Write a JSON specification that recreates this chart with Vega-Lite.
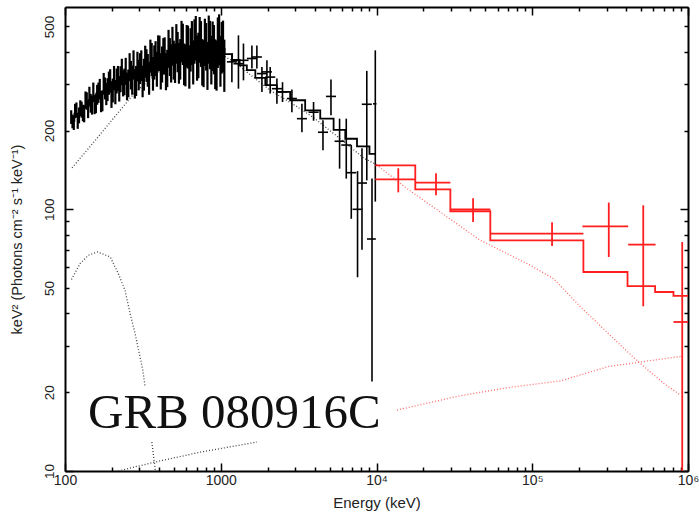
{
  "$schema": "https://vega.github.io/schema/vega-lite/v6.json",
  "width": 623,
  "height": 464,
  "autosize": {"type": "none"},
  "padding": {"left": 65, "top": 7, "right": 11, "bottom": 42},
  "background": "white",
  "config": {
    "view": {"stroke": null},
    "axis": {
      "domainColor": "black", "domainWidth": 2, "tickColor": "black", "tickWidth": 1.5,
      "grid": false, "labelFont": "Liberation Sans", "titleFont": "Liberation Sans",
      "labelColor": "#222", "titleColor": "#222", "titleFontWeight": "normal",
      "labelOverlap": false, "labelFlush": false, "labelBound": false
    }
  },
  "datasets": {
    "comp": [
      {"E": 111, "V": 144, "inst": "GBM", "seg": "band_gbm"},
      {"E": 150, "V": 178, "inst": "GBM", "seg": "band_gbm"},
      {"E": 200, "V": 219, "inst": "GBM", "seg": "band_gbm"},
      {"E": 282, "V": 280, "inst": "GBM", "seg": "band_gbm"},
      {"E": 400, "V": 335, "inst": "GBM", "seg": "band_gbm"},
      {"E": 550, "V": 372, "inst": "GBM", "seg": "band_gbm"},
      {"E": 800, "V": 400, "inst": "GBM", "seg": "band_gbm"},
      {"E": 1000, "V": 392, "inst": "GBM", "seg": "band_gbm"},
      {"E": 1250, "V": 362, "inst": "GBM", "seg": "band_gbm"},
      {"E": 1545, "V": 327, "inst": "GBM", "seg": "band_gbm"},
      {"E": 2075, "V": 285, "inst": "GBM", "seg": "band_gbm"},
      {"E": 3080, "V": 247, "inst": "GBM", "seg": "band_gbm"},
      {"E": 3940, "V": 224, "inst": "GBM", "seg": "band_gbm"},
      {"E": 5850, "V": 186, "inst": "GBM", "seg": "band_gbm"},
      {"E": 8270, "V": 157, "inst": "GBM", "seg": "band_gbm"},
      {"E": 10000, "V": 148, "inst": "GBM", "seg": "band_gbm"},
      {"E": 10000, "V": 148, "inst": "LAT", "seg": "band_lat"},
      {"E": 15700, "V": 120, "inst": "LAT", "seg": "band_lat"},
      {"E": 46400, "V": 76.1, "inst": "LAT", "seg": "band_lat"},
      {"E": 62500, "V": 69.7, "inst": "LAT", "seg": "band_lat"},
      {"E": 97300, "V": 61.1, "inst": "LAT", "seg": "band_lat"},
      {"E": 137000, "V": 54.3, "inst": "LAT", "seg": "band_lat"},
      {"E": 204000, "V": 42.4, "inst": "LAT", "seg": "band_lat"},
      {"E": 388000, "V": 29.4, "inst": "LAT", "seg": "band_lat"},
      {"E": 496000, "V": 25.7, "inst": "LAT", "seg": "band_lat"},
      {"E": 700000, "V": 21.6, "inst": "LAT", "seg": "band_lat"},
      {"E": 895000, "V": 19.5, "inst": "LAT", "seg": "band_lat"},
      {"E": 110, "V": 53.9, "inst": "GBM", "seg": "bb"},
      {"E": 124.9, "V": 62.0, "inst": "GBM", "seg": "bb"},
      {"E": 141.1, "V": 66.7, "inst": "GBM", "seg": "bb"},
      {"E": 162, "V": 68.7, "inst": "GBM", "seg": "bb"},
      {"E": 195, "V": 65.8, "inst": "GBM", "seg": "bb"},
      {"E": 220, "V": 56.8, "inst": "GBM", "seg": "bb"},
      {"E": 243, "V": 49.0, "inst": "GBM", "seg": "bb"},
      {"E": 262, "V": 39.9, "inst": "GBM", "seg": "bb"},
      {"E": 282, "V": 33.5, "inst": "GBM", "seg": "bb"},
      {"E": 300, "V": 28.1, "inst": "GBM", "seg": "bb"},
      {"E": 316, "V": 24.3, "inst": "GBM", "seg": "bb"},
      {"E": 327, "V": 20.9, "inst": "GBM", "seg": "bb"},
      {"E": 361, "V": 12.9, "inst": "GBM", "seg": "bb_tail"},
      {"E": 379, "V": 10.2, "inst": "GBM", "seg": "bb_tail"},
      {"E": 386, "V": 9.5, "inst": "GBM", "seg": "bb_tail"},
      {"E": 220, "V": 10.0, "inst": "GBM", "seg": "pl_gbm"},
      {"E": 373, "V": 10.8, "inst": "GBM", "seg": "pl_gbm"},
      {"E": 738, "V": 11.8, "inst": "GBM", "seg": "pl_gbm"},
      {"E": 1706, "V": 12.9, "inst": "GBM", "seg": "pl_gbm"},
      {"E": 13550, "V": 17.1, "inst": "LAT", "seg": "pl_lat"},
      {"E": 34600, "V": 19.4, "inst": "LAT", "seg": "pl_lat"},
      {"E": 72400, "V": 20.9, "inst": "LAT", "seg": "pl_lat"},
      {"E": 152000, "V": 22.1, "inst": "LAT", "seg": "pl_lat"},
      {"E": 310000, "V": 25.1, "inst": "LAT", "seg": "pl_lat"},
      {"E": 895000, "V": 27.4, "inst": "LAT", "seg": "pl_lat"}
    ],
    "nai": [
      {"E": 109.6, "V": 225, "lo": 212, "hi": 239},
      {"E": 113.9, "V": 215, "lo": 201, "hi": 228},
      {"E": 118.4, "V": 240, "lo": 224, "hi": 256},
      {"E": 123.0, "V": 229, "lo": 213, "hi": 245},
      {"E": 127.8, "V": 241, "lo": 224, "hi": 258},
      {"E": 132.8, "V": 232, "lo": 215, "hi": 249},
      {"E": 138.0, "V": 260, "lo": 240, "hi": 280},
      {"E": 143.4, "V": 272, "lo": 250, "hi": 294},
      {"E": 149.1, "V": 251, "lo": 230, "hi": 272},
      {"E": 154.9, "V": 252, "lo": 231, "hi": 273},
      {"E": 160.9, "V": 275, "lo": 251, "hi": 299},
      {"E": 167.2, "V": 289, "lo": 263, "hi": 315},
      {"E": 173.8, "V": 261, "lo": 237, "hi": 285},
      {"E": 180.6, "V": 291, "lo": 263, "hi": 319},
      {"E": 187.6, "V": 288, "lo": 259, "hi": 317},
      {"E": 195.0, "V": 311, "lo": 279, "hi": 343},
      {"E": 202.6, "V": 286, "lo": 256, "hi": 316},
      {"E": 210.5, "V": 282, "lo": 252, "hi": 312},
      {"E": 218.8, "V": 318, "lo": 283, "hi": 353},
      {"E": 227.3, "V": 316, "lo": 280, "hi": 352},
      {"E": 236.2, "V": 305, "lo": 270, "hi": 340},
      {"E": 245.4, "V": 339, "lo": 299, "hi": 379},
      {"E": 255.0, "V": 305, "lo": 268, "hi": 342},
      {"E": 265.0, "V": 328, "lo": 287, "hi": 369},
      {"E": 275.4, "V": 359, "lo": 313, "hi": 405},
      {"E": 286.2, "V": 312, "lo": 271, "hi": 353},
      {"E": 297.4, "V": 329, "lo": 285, "hi": 373},
      {"E": 309.0, "V": 357, "lo": 309, "hi": 405},
      {"E": 321.1, "V": 330, "lo": 284, "hi": 376},
      {"E": 333.6, "V": 358, "lo": 307, "hi": 409},
      {"E": 346.7, "V": 320, "lo": 274, "hi": 366},
      {"E": 360.2, "V": 377, "lo": 322, "hi": 432},
      {"E": 374.3, "V": 368, "lo": 313, "hi": 423},
      {"E": 388.9, "V": 347, "lo": 294, "hi": 400},
      {"E": 404.1, "V": 399, "lo": 337, "hi": 461},
      {"E": 420.0, "V": 362, "lo": 305, "hi": 419},
      {"E": 436.4, "V": 391, "lo": 328, "hi": 454},
      {"E": 453.4, "V": 350, "lo": 293, "hi": 407},
      {"E": 471.2, "V": 387, "lo": 323, "hi": 451},
      {"E": 489.6, "V": 426, "lo": 354, "hi": 498},
      {"E": 508.8, "V": 367, "lo": 304, "hi": 430},
      {"E": 528.7, "V": 405, "lo": 334, "hi": 476},
      {"E": 549.3, "V": 380, "lo": 313, "hi": 447},
      {"E": 570.8, "V": 434, "lo": 356, "hi": 512},
      {"E": 593.0, "V": 361, "lo": 295, "hi": 427},
      {"E": 616.3, "V": 424, "lo": 345, "hi": 503},
      {"E": 640.4, "V": 414, "lo": 336, "hi": 492},
      {"E": 665.3, "V": 371, "lo": 300, "hi": 442},
      {"E": 691.4, "V": 459, "lo": 370, "hi": 548},
      {"E": 718.3, "V": 395, "lo": 317, "hi": 473},
      {"E": 746.5, "V": 437, "lo": 350, "hi": 524},
      {"E": 775.7, "V": 368, "lo": 293, "hi": 443},
      {"E": 805.9, "V": 427, "lo": 339, "hi": 515},
      {"E": 837.5, "V": 455, "lo": 360, "hi": 550},
      {"E": 870.1, "V": 380, "lo": 300, "hi": 460},
      {"E": 904.3, "V": 417, "lo": 328, "hi": 506},
      {"E": 939.7, "V": 363, "lo": 284, "hi": 442},
      {"E": 976.3, "V": 456, "lo": 356, "hi": 556},
      {"E": 1014.6, "V": 425, "lo": 330, "hi": 520},
      {"E": 1054.1, "V": 363, "lo": 281, "hi": 445},
      {"E": 111.7, "V": 217, "lo": 204, "hi": 230},
      {"E": 116.1, "V": 238, "lo": 223, "hi": 253},
      {"E": 120.7, "V": 218, "lo": 203, "hi": 233},
      {"E": 125.4, "V": 244, "lo": 227, "hi": 261},
      {"E": 130.3, "V": 234, "lo": 217, "hi": 251},
      {"E": 135.4, "V": 262, "lo": 242, "hi": 282},
      {"E": 140.7, "V": 242, "lo": 223, "hi": 261},
      {"E": 146.2, "V": 255, "lo": 234, "hi": 276},
      {"E": 152.0, "V": 281, "lo": 257, "hi": 305},
      {"E": 157.9, "V": 255, "lo": 233, "hi": 277},
      {"E": 164.0, "V": 280, "lo": 255, "hi": 305},
      {"E": 170.5, "V": 259, "lo": 235, "hi": 283},
      {"E": 177.2, "V": 303, "lo": 274, "hi": 332},
      {"E": 184.1, "V": 277, "lo": 250, "hi": 304},
      {"E": 191.3, "V": 305, "lo": 274, "hi": 336},
      {"E": 198.8, "V": 272, "lo": 244, "hi": 300},
      {"E": 206.5, "V": 319, "lo": 285, "hi": 353},
      {"E": 214.6, "V": 311, "lo": 277, "hi": 345},
      {"E": 223.0, "V": 290, "lo": 258, "hi": 322},
      {"E": 231.7, "V": 337, "lo": 298, "hi": 376},
      {"E": 240.8, "V": 309, "lo": 273, "hi": 345},
      {"E": 250.2, "V": 297, "lo": 261, "hi": 333},
      {"E": 260.0, "V": 352, "lo": 309, "hi": 395},
      {"E": 270.2, "V": 314, "lo": 274, "hi": 354},
      {"E": 280.8, "V": 304, "lo": 265, "hi": 343},
      {"E": 291.8, "V": 354, "lo": 308, "hi": 400},
      {"E": 303.2, "V": 348, "lo": 301, "hi": 395},
      {"E": 315.0, "V": 311, "lo": 268, "hi": 354},
      {"E": 327.3, "V": 370, "lo": 318, "hi": 422},
      {"E": 340.1, "V": 343, "lo": 294, "hi": 392},
      {"E": 353.4, "V": 389, "lo": 333, "hi": 445},
      {"E": 367.2, "V": 333, "lo": 284, "hi": 382},
      {"E": 381.5, "V": 381, "lo": 323, "hi": 439},
      {"E": 396.4, "V": 400, "lo": 338, "hi": 462},
      {"E": 412.0, "V": 341, "lo": 287, "hi": 395},
      {"E": 428.1, "V": 389, "lo": 327, "hi": 451},
      {"E": 444.8, "V": 340, "lo": 285, "hi": 395},
      {"E": 462.2, "V": 416, "lo": 347, "hi": 485},
      {"E": 480.3, "V": 366, "lo": 305, "hi": 427},
      {"E": 499.1, "V": 377, "lo": 313, "hi": 441},
      {"E": 518.7, "V": 435, "lo": 360, "hi": 510},
      {"E": 538.9, "V": 367, "lo": 302, "hi": 432},
      {"E": 560.0, "V": 445, "lo": 365, "hi": 525},
      {"E": 581.8, "V": 364, "lo": 298, "hi": 430},
      {"E": 604.6, "V": 427, "lo": 348, "hi": 506},
      {"E": 628.2, "V": 356, "lo": 289, "hi": 423},
      {"E": 652.7, "V": 440, "lo": 356, "hi": 524},
      {"E": 678.2, "V": 446, "lo": 360, "hi": 532},
      {"E": 704.7, "V": 386, "lo": 310, "hi": 462},
      {"E": 732.3, "V": 453, "lo": 363, "hi": 543},
      {"E": 760.9, "V": 372, "lo": 297, "hi": 447},
      {"E": 790.7, "V": 444, "lo": 353, "hi": 535},
      {"E": 821.6, "V": 361, "lo": 286, "hi": 436},
      {"E": 853.7, "V": 434, "lo": 343, "hi": 525},
      {"E": 887.1, "V": 430, "lo": 338, "hi": 522},
      {"E": 921.8, "V": 367, "lo": 288, "hi": 446},
      {"E": 957.8, "V": 444, "lo": 347, "hi": 541},
      {"E": 995.3, "V": 377, "lo": 294, "hi": 460},
      {"E": 1034.2, "V": 430, "lo": 334, "hi": 526}
    ],
    "bgo": [
      {"E": 1179, "V": 366, "Elo": 1095, "Ehi": 1270, "lo": 306, "hi": 395},
      {"E": 1299, "V": 360, "Elo": 1206, "Ehi": 1399, "lo": 289, "hi": 462},
      {"E": 1399, "V": 371, "Elo": 1299, "Ehi": 1507, "lo": 311, "hi": 430},
      {"E": 1585, "V": 377, "Elo": 1472, "Ehi": 1707, "lo": 345, "hi": 423},
      {"E": 1706, "V": 382, "Elo": 1584, "Ehi": 1837, "lo": 345, "hi": 423},
      {"E": 1838, "V": 330, "Elo": 1707, "Ehi": 1980, "lo": 281, "hi": 350},
      {"E": 1979, "V": 335, "Elo": 1838, "Ehi": 2131, "lo": 298, "hi": 371},
      {"E": 2077, "V": 320, "Elo": 1929, "Ehi": 2237, "lo": 277, "hi": 350},
      {"E": 2294, "V": 289, "Elo": 2130, "Ehi": 2471, "lo": 253, "hi": 316},
      {"E": 2492, "V": 281, "Elo": 2314, "Ehi": 2684, "lo": 257, "hi": 306},
      {"E": 2863, "V": 265, "Elo": 2658, "Ehi": 3083, "lo": 235, "hi": 287},
      {"E": 3320, "V": 222, "Elo": 3083, "Ehi": 3576, "lo": 197, "hi": 253},
      {"E": 3943, "V": 235, "Elo": 3661, "Ehi": 4247, "lo": 218, "hi": 257},
      {"E": 4532, "V": 197, "Elo": 4208, "Ehi": 4881, "lo": 168, "hi": 219},
      {"E": 5101, "V": 270, "Elo": 4736, "Ehi": 5494, "lo": 229, "hi": 313},
      {"E": 5794, "V": 182, "Elo": 5380, "Ehi": 6240, "lo": 143, "hi": 222},
      {"E": 6396, "V": 176, "Elo": 5939, "Ehi": 6888, "lo": 131, "hi": 222},
      {"E": 6887, "V": 138, "Elo": 6395, "Ehi": 7417, "lo": 92, "hi": 176},
      {"E": 7556, "V": 100, "Elo": 7016, "Ehi": 8138, "lo": 55, "hi": 140},
      {"E": 8069, "V": 126, "Elo": 7492, "Ehi": 8690, "lo": 70, "hi": 171},
      {"E": 8663, "V": 252, "Elo": 8044, "Ehi": 9330, "lo": 129, "hi": 338},
      {"E": 9357, "V": 77, "Elo": 8688, "Ehi": 9900, "lo": 22, "hi": 131},
      {"E": 9824, "V": 253, "Elo": 9500, "Ehi": 10000, "lo": 107, "hi": 405}
    ],
    "gbmmodel": [
      {"E": 110, "V": 218}, {"E": 120, "V": 232}, {"E": 135, "V": 248}, {"E": 150, "V": 262},
      {"E": 170, "V": 279}, {"E": 190, "V": 294}, {"E": 210, "V": 306}, {"E": 240, "V": 320},
      {"E": 280, "V": 334}, {"E": 320, "V": 347}, {"E": 370, "V": 362}, {"E": 430, "V": 378},
      {"E": 500, "V": 392}, {"E": 580, "V": 404}, {"E": 670, "V": 413}, {"E": 770, "V": 418},
      {"E": 880, "V": 418}, {"E": 1000, "V": 410}, {"E": 1120, "V": 392}, {"E": 1250, "V": 372},
      {"E": 1400, "V": 355}, {"E": 1545, "V": 340}, {"E": 1800, "V": 318}, {"E": 2075, "V": 298},
      {"E": 2530, "V": 281}, {"E": 3080, "V": 261}, {"E": 3940, "V": 239}, {"E": 4810, "V": 222},
      {"E": 5850, "V": 201}, {"E": 6790, "V": 186}, {"E": 8270, "V": 174}, {"E": 9820, "V": 163}
    ],
    "lat": [
      {"E": 13800, "V": 130.2, "Elo": 9820, "Ehi": 17740, "lo": 116.1, "hi": 143.5},
      {"E": 24100, "V": 126.5, "Elo": 17740, "Ehi": 29800, "lo": 113.1, "hi": 137.3},
      {"E": 41700, "V": 100, "Elo": 29800, "Ehi": 53800, "lo": 89.4, "hi": 110.2},
      {"E": 134000, "V": 80.7, "Elo": 53800, "Ehi": 213000, "lo": 72.4, "hi": 89.2},
      {"E": 310000, "V": 86.1, "Elo": 210000, "Ehi": 413000, "lo": 65.7, "hi": 106.1},
      {"E": 516000, "V": 73.3, "Elo": 413000, "Ehi": 619000, "lo": 42.6, "hi": 103.6},
      {"E": 918000, "V": 37.1, "Elo": 807000, "Ehi": 1000000, "lo": 5, "hi": 75.0}
    ],
    "latmodel": [
      {"E": 9820, "V": 147.3}, {"E": 17740, "V": 119.2}, {"E": 29800, "V": 98.3},
      {"E": 53800, "V": 76.1}, {"E": 213000, "V": 57.6}, {"E": 409000, "V": 50.9},
      {"E": 615000, "V": 48.3}, {"E": 807000, "V": 46.7}, {"E": 1000000, "V": 46.7}
    ],
    "label": [{"E": 140.6, "V": 14.6, "text": "GRB 080916C"}]
  },
  "resolve": {"axis": {"x": "independent", "y": "independent"}},
  "layer": [
    {
      "data": {"name": "comp"},
      "mark": {"type": "line", "strokeDash": [1, 2], "strokeWidth": 1.3, "clip": true},
      "encoding": {
        "x": {"field": "E", "type": "quantitative", "scale": {"type": "log", "domain": [100, 1000000], "nice": false}, "axis": null},
        "y": {"field": "V", "type": "quantitative", "scale": {"type": "log", "domain": [10, 593], "nice": false}, "axis": null},
        "detail": {"field": "seg"},
        "color": {"field": "inst", "type": "nominal", "scale": {"domain": ["GBM", "LAT"], "range": ["#444444", "#ff6a6a"]}, "legend": null}
      }
    },
    {
      "data": {"name": "nai"},
      "mark": {"type": "rule", "color": "black", "strokeWidth": 2.2},
      "encoding": {
        "x": {"field": "E", "type": "quantitative", "scale": {"type": "log", "domain": [100, 1000000], "nice": false},
          "axis": {
            "orient": "bottom",
            "values": [100,200,300,400,500,600,700,800,900,1000,2000,3000,4000,5000,6000,7000,8000,9000,10000,20000,30000,40000,50000,60000,70000,80000,90000,100000,200000,300000,400000,500000,600000,700000,800000,900000,1000000],
            "labelExpr": "datum.value == 100 ? '100' : datum.value == 1000 ? '1000' : datum.value == 10000 ? '10⁴' : datum.value == 100000 ? '10⁵' : datum.value == 1000000 ? '10⁶' : ''",
            "tickSize": {"condition": {"test": "indexof([100,1000,10000,100000,1000000], datum.value) >= 0", "value": -8}, "value": -4},
            "labelPadding": 10, "labelFontSize": 14,
            "title": "Energy (keV)", "titleFontSize": 15, "titlePadding": 4
          }},
        "y": {"field": "lo", "type": "quantitative", "scale": {"type": "log", "domain": [10, 593], "nice": false},
          "axis": {
            "orient": "left",
            "values": [10,20,30,40,50,60,70,80,90,100,200,300,400,500],
            "format": "d",
            "labelExpr": "indexof([10,20,50,100,200,500], datum.value) >= 0 ? datum.label : ''",
            "tickSize": {"condition": {"test": "datum.value == 10 || datum.value == 100", "value": -8}, "value": -4},
            "labelAngle": -90, "labelAlign": "center", "labelBaseline": "bottom",
            "labelPadding": {"condition": {"test": "datum.value == 10 || datum.value == 100", "value": 17}, "value": 13},
            "labelFontSize": 13.5,
            "title": "keV² (Photons cm⁻² s⁻¹ keV⁻¹)", "titleFontSize": 14.5, "titlePadding": 18
          }},
        "y2": {"field": "hi"}
      }
    },
    {
      "data": {"name": "bgo"},
      "mark": {"type": "rule", "color": "black", "strokeWidth": 1.6},
      "encoding": {
        "x": {"field": "E", "type": "quantitative", "axis": null},
        "y": {"field": "lo", "type": "quantitative", "axis": null},
        "y2": {"field": "hi"}
      }
    },
    {
      "data": {"name": "bgo"},
      "mark": {"type": "rule", "color": "black", "strokeWidth": 1.6},
      "encoding": {
        "x": {"field": "Elo", "type": "quantitative", "axis": null},
        "x2": {"field": "Ehi"},
        "y": {"field": "V", "type": "quantitative", "axis": null}
      }
    },
    {
      "data": {"name": "gbmmodel"},
      "mark": {"type": "line", "color": "black", "strokeWidth": 1.8, "interpolate": "step"},
      "encoding": {
        "x": {"field": "E", "type": "quantitative", "axis": null},
        "y": {"field": "V", "type": "quantitative", "axis": null}
      }
    },
    {
      "data": {"name": "lat"},
      "mark": {"type": "rule", "color": "#ff1f1f", "strokeWidth": 1.8, "clip": true},
      "encoding": {
        "x": {"field": "E", "type": "quantitative", "axis": null},
        "y": {"field": "lo", "type": "quantitative", "axis": null},
        "y2": {"field": "hi"}
      }
    },
    {
      "data": {"name": "lat"},
      "mark": {"type": "rule", "color": "#ff1f1f", "strokeWidth": 1.8},
      "encoding": {
        "x": {"field": "Elo", "type": "quantitative", "axis": null},
        "x2": {"field": "Ehi"},
        "y": {"field": "V", "type": "quantitative", "axis": null}
      }
    },
    {
      "data": {"name": "latmodel"},
      "mark": {"type": "line", "color": "#ff1f1f", "strokeWidth": 1.8, "interpolate": "step-after"},
      "encoding": {
        "x": {"field": "E", "type": "quantitative",
          "axis": {
            "orient": "top", "labels": false, "title": null,
            "values": [100,200,300,400,500,600,700,800,900,1000,2000,3000,4000,5000,6000,7000,8000,9000,10000,20000,30000,40000,50000,60000,70000,80000,90000,100000,200000,300000,400000,500000,600000,700000,800000,900000,1000000],
            "tickSize": {"condition": {"test": "indexof([100,1000,10000,100000,1000000], datum.value) >= 0", "value": -8}, "value": -4}
          }},
        "y": {"field": "V", "type": "quantitative",
          "axis": {
            "orient": "right", "labels": false, "title": null,
            "values": [10,20,30,40,50,60,70,80,90,100,200,300,400,500],
            "tickSize": {"condition": {"test": "datum.value == 10 || datum.value == 100", "value": -8}, "value": -4}
          }}
      }
    },
    {
      "data": {"name": "label"},
      "mark": {"type": "text", "font": "Liberation Serif", "fontSize": 49, "align": "left", "baseline": "alphabetic", "color": "#111"},
      "encoding": {
        "x": {"field": "E", "type": "quantitative", "axis": null},
        "y": {"field": "V", "type": "quantitative", "axis": null},
        "text": {"field": "text"}
      }
    }
  ]
}
